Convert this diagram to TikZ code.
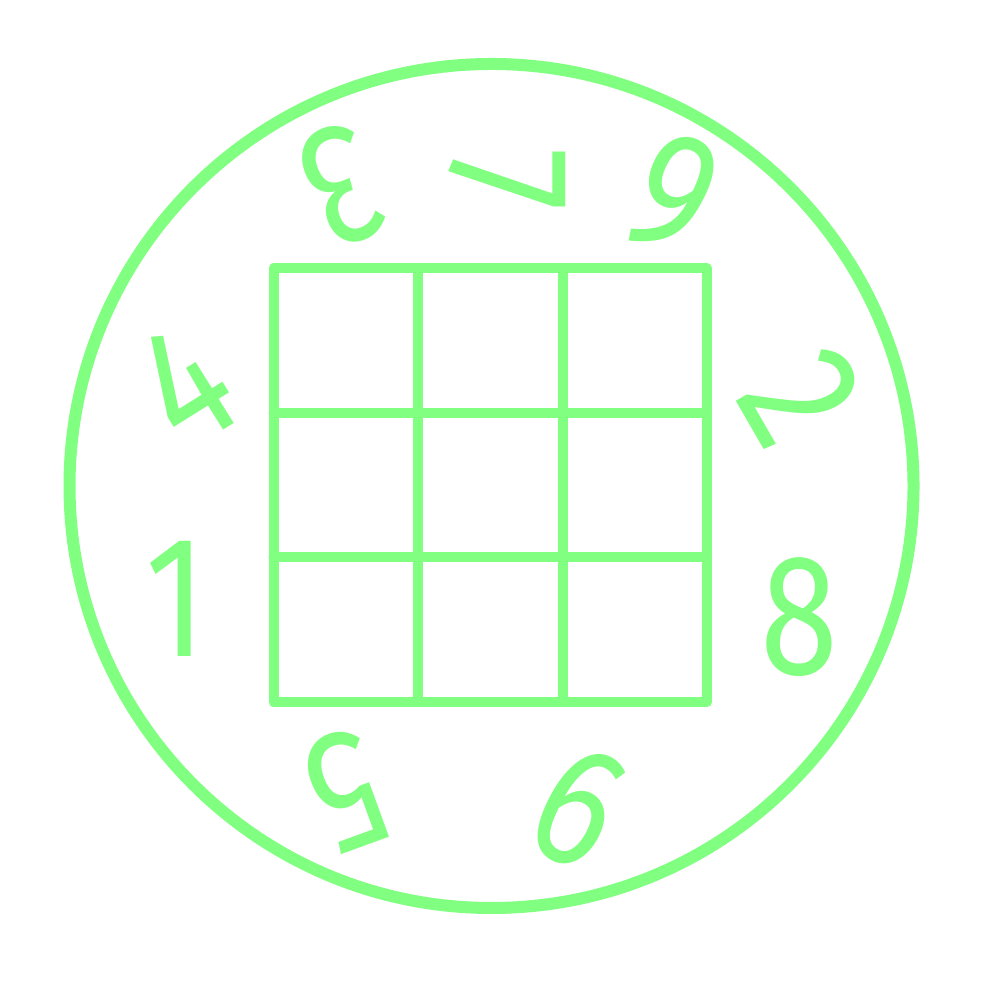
\documentclass[tikz,border=0pt]{standalone}
\usepackage{fontspec}
\usepackage{graphicx}
\setmainfont{Fira Sans}
\definecolor{lgreen}{RGB}{128,255,128}
\tikzset{
  ring/.style={draw=lgreen, line width=0.12cm},
  gridline/.style={draw=lgreen, line width=0.10cm, line join=round, line cap=round},
  digit/.style={text=lgreen, inner sep=0pt, font=\fontsize{49pt}{49pt}\selectfont}
}
\newcommand{\dg}[1]{\scalebox{0.82}[1]{#1}}
\begin{document}
\begin{tikzpicture}
\useasboundingbox (0,0) rectangle (10,10);
\fill[white] (0,0) rectangle (10,10);
\node[ring, circle, minimum size=8.44cm, inner sep=0pt] (ring) at (4.915,5.14) {};
% grid
\coordinate (g00) at (2.735,2.98);
\coordinate (g11) at (7.07,7.315);
\draw[gridline] (g00) rectangle (g11);
\draw[gridline] (4.18,2.98) -- (4.18,7.315);
\draw[gridline] (5.625,2.98) -- (5.625,7.315);
\draw[gridline] (2.735,4.425) -- (7.07,4.425);
\draw[gridline] (2.735,5.87) -- (7.07,5.87);
% digits
\node[digit, rotate=0]   (d1) at (1.76,4.01) {\dg{1}};
\node[digit, rotate=32]  (d4) at (1.85,6.15) {\dg{4}};
\node[digit, rotate=202] (d3) at (3.40,8.14) {\dg{3}};
\node[digit, rotate=-90] (d7) at (5.07,8.20) {\dg{7}};
\node[digit, rotate=-25] (d9) at (6.73,8.05) {\dg{9}};
\node[digit, rotate=-60] (d2) at (8.02,6.02) {\dg{2}};
\node[digit, rotate=0]   (d8) at (7.99,3.83) {\dg{8}};
\node[digit, rotate=-28] (d6) at (5.79,1.93) {\dg{6}};
\node[digit, rotate=200] (d5) at (3.46,2.09) {\dg{5}};
\end{tikzpicture}
\end{document}
